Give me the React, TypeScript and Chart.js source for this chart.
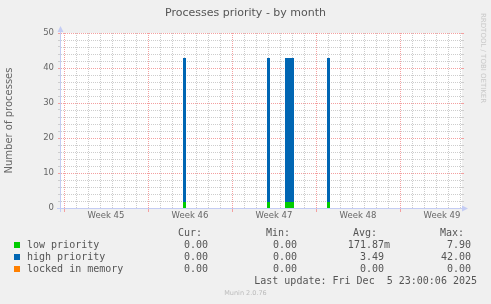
import React, { useEffect, useRef } from "react";
import { Chart, registerables } from "chart.js";

Chart.register(...registerables);

// ---- data ----
const chartTitle = "Processes priority - by month";
const yAxisTitle = "Number of processes";
const weekLabels = ["Week 45", "Week 46", "Week 47", "Week 48", "Week 49"];
// time in hours since Monday 00:00 of week 45
const rangeStartHours = -6;
const rangeEndHours = 796;
const spikeStartHours = [238, 406, 442, 526];
const spikeEndHours = [244, 412, 460, 532];
const lowPriority = [1.7, 1.7, 1.7, 1.7];
const highPriority = [41.15, 41.15, 41.15, 41.15];
const lockedInMemory = [0, 0, 0, 0];
const yMax = 50;
const yTickLabels = ["0", "10", "20", "30", "40", "50"];

const seriesNames = ["low priority", "high priority", "locked in memory"];
const seriesColors = ["#00CC00", "#0066B3", "#FF8000"];
const headerLabels = ["Cur:", "Min:", "Avg:", "Max:"];
const curValues = ["0.00", "0.00", "0.00"];
const minValues = ["0.00", "0.00", "0.00"];
const avgValues = ["171.87m", "3.49 ", "0.00 "];
const maxValues = ["7.90", "42.00", "0.00"];
const lastUpdate = "Last update: Fri Dec  5 23:00:06 2025";
const footerText = "Munin 2.0.76";
const watermark = "RRDTOOL / TOBI OETIKER";

// ---- helpers ----
const HOURS_PER_DAY = 24;
const HOURS_PER_WEEK = 168;
const weekLabelHours = weekLabels.map((_, k) => HOURS_PER_WEEK / 2 + k * HOURS_PER_WEEK);

function spikePoints(values: number[]) {
  const pts: { x: number; y: number }[] = [{ x: rangeStartHours, y: 0 }];
  values.forEach((v, i) => {
    pts.push(
      { x: spikeStartHours[i], y: 0 },
      { x: spikeStartHours[i], y: v },
      { x: spikeEndHours[i], y: v },
      { x: spikeEndHours[i], y: 0 }
    );
  });
  pts.push({ x: rangeEndHours, y: 0 });
  return pts;
}

const MAJOR = "#F4A0A0";
const MINOR = "#CDCDCD";
const AXIS = "#C4CCF4";
const FONT = "#666666";
const LEGEND_FONT = "#555555";

const xGridColor = (v: number) =>
  v % HOURS_PER_WEEK === 0 ? MAJOR : v % HOURS_PER_DAY === 0 ? MINOR : null;
const yGridColor = (v: number) => (v % 10 === 0 ? MAJOR : MINOR);

const rrdPlugin = {
  id: "rrd",
  beforeDraw(chart: any) {
    const { ctx, chartArea: a } = chart;
    ctx.save();
    ctx.fillStyle = "#F0F0F0";
    ctx.fillRect(0, 0, chart.width, chart.height);
    ctx.fillStyle = "#FFFFFF";
    ctx.fillRect(a.left, a.top, a.right - a.left, a.bottom - a.top);
    ctx.restore();
  },
  beforeDatasetsDraw(chart: any) {
    // dotted rrdtool-style grid, positioned by the chart's scales
    const { ctx, chartArea: a } = chart;
    const xs = chart.scales.x;
    const ys = chart.scales.y;
    ctx.save();
    ys.ticks.forEach((t: any) => {
      const row = Math.round(ys.getPixelForValue(t.value));
      if (row >= a.bottom) return;
      ctx.fillStyle = yGridColor(t.value);
      for (let px = a.left; px < a.right; px += 2) ctx.fillRect(px, row, 1, 1);
      for (let px = a.right; px < a.right + 2; px++) ctx.fillRect(px, row, 1, 1);
    });
    xs.ticks.forEach((t: any) => {
      const col = xGridColor(t.value);
      if (!col) return;
      const px = Math.round(xs.getPixelForValue(t.value));
      ctx.fillStyle = col;
      for (let py = a.top; py < a.bottom; py += 2) ctx.fillRect(px, py, 1, 1);
    });
    ctx.restore();
  },
  afterDraw(chart: any) {
    const { ctx, chartArea: a } = chart;
    ctx.save();
    // axes
    const x0 = a.left - 0.5;
    const y0 = a.bottom + 0.5;
    ctx.strokeStyle = AXIS;
    ctx.fillStyle = AXIS;
    ctx.lineWidth = 1;
    ctx.beginPath();
    ctx.moveTo(a.left - 4, y0);
    ctx.lineTo(a.right + 1, y0);
    ctx.moveTo(x0, a.bottom + 4);
    ctx.lineTo(x0, a.top - 4);
    ctx.stroke();
    // arrows
    ctx.beginPath();
    ctx.moveTo(x0 - 3, a.top - 1);
    ctx.lineTo(x0 + 3, a.top - 1);
    ctx.lineTo(x0, a.top - 7);
    ctx.closePath();
    ctx.fill();
    ctx.beginPath();
    ctx.moveTo(a.right, y0 - 3);
    ctx.lineTo(a.right, y0 + 3);
    ctx.lineTo(a.right + 6, y0);
    ctx.closePath();
    ctx.fill();

    // title
    ctx.fillStyle = LEGEND_FONT;
    ctx.font = '11px "DejaVu Sans"';
    ctx.textAlign = "center";
    ctx.textBaseline = "alphabetic";
    ctx.fillText(chartTitle, 245.5, 15.5);

    // watermark
    ctx.save();
    ctx.fillStyle = "#C8C8C8";
    ctx.font = '7px "DejaVu Sans"';
    ctx.translate(481, 13);
    ctx.rotate(Math.PI / 2);
    ctx.textAlign = "left";
    ctx.fillText(watermark, 0, 0);
    ctx.restore();

    // legend
    ctx.font = '10px "DejaVu Sans Mono"';
    ctx.fillStyle = LEGEND_FONT;
    ctx.textAlign = "right";
    const headerRight = [202, 290, 377, 464];
    headerLabels.forEach((h, i) => ctx.fillText(h, headerRight[i], 236));
    const valueRight = [208, 297, 390, 471];
    seriesNames.forEach((name, r) => {
      const base = 248 + r * 12;
      ctx.fillStyle = seriesColors[r];
      ctx.fillRect(14, base - 6, 6, 6);
      ctx.fillStyle = LEGEND_FONT;
      ctx.textAlign = "left";
      ctx.fillText(name, 27, base);
      ctx.textAlign = "right";
      const vals = [curValues[r], minValues[r], avgValues[r], maxValues[r]];
      vals.forEach((v, i) => ctx.fillText(v, valueRight[i], base));
    });
    ctx.fillText(lastUpdate, 477, 284);

    // footer
    ctx.fillStyle = "#BBBBBB";
    ctx.font = '6.5px "DejaVu Sans"';
    ctx.textAlign = "center";
    ctx.fillText(footerText, 245.5, 294.5);
    ctx.restore();
  },
};

export default function App() {
  const ref = useRef<HTMLCanvasElement>(null);
  useEffect(() => {
    const canvas = ref.current!;
    const totals = lowPriority.map((l, i) => l + highPriority[i]);
    const ds = (label: string, data: number[], color: string) => ({
      label,
      data: spikePoints(data),
      backgroundColor: color,
      borderColor: "transparent",
      borderWidth: 0,
      pointRadius: 0,
      pointHoverRadius: 0,
      fill: "origin",
      tension: 0,
    });
    const chart = new Chart(canvas, {
      type: "line",
      data: {
        datasets: [
          ds(seriesNames[0], lowPriority, seriesColors[0]),
          ds(seriesNames[1], totals, seriesColors[1]),
          ds(seriesNames[2], lockedInMemory, seriesColors[2]),
        ] as any,
      },
      options: {
        responsive: false,
        animation: false,
        events: [],
        layout: { padding: { left: 0, top: 33, right: 29, bottom: 0 } },
        plugins: {
          legend: { display: false },
          title: { display: false },
          tooltip: { enabled: false },
        },
        scales: {
          x: {
            type: "linear",
            min: rangeStartHours,
            max: rangeEndHours,
            afterBuildTicks: (scale: any) => {
              const vals: number[] = [];
              for (let h = 0; h <= rangeEndHours; h += HOURS_PER_DAY) vals.push(h);
              weekLabelHours.forEach((h) => vals.push(h));
              vals.sort((p, q) => p - q);
              scale.ticks = vals.map((value) => ({ value }));
            },
            afterFit: (scale: any) => {
              scale.height = 96;
            },
            grid: {
              drawOnChartArea: false,
              color: "rgba(0,0,0,0)",
              tickColor: (c: any) => {
                const v = c.tick ? c.tick.value : NaN;
                return v % HOURS_PER_WEEK === 0 ? MAJOR : "rgba(0,0,0,0)";
              },
              tickLength: 4,
              lineWidth: 1,
            },
            border: { display: false },
            ticks: {
              autoSkip: false,
              maxRotation: 0,
              minRotation: 0,
              padding: 0,
              color: FONT,
              font: { family: "DejaVu Sans", size: 8.5, lineHeight: 1 },
              callback: (v: any) => {
                const k = weekLabelHours.indexOf(Number(v));
                return k >= 0 ? weekLabels[k] : "";
              },
            },
          },
          y: {
            type: "linear",
            min: 0,
            max: yMax,
            afterBuildTicks: (scale: any) => {
              const vals: number[] = [];
              for (let v = 0; v <= yMax; v += 2) vals.push(v);
              scale.ticks = vals.map((value) => ({ value }));
            },
            afterFit: (scale: any) => {
              scale.width = 61;
            },
            grid: {
              drawOnChartArea: false,
              color: "rgba(0,0,0,0)",
              tickColor: (c: any) => (c.tick ? yGridColor(c.tick.value) : MINOR),
              tickLength: 3,
              lineWidth: 1,
            },
            border: { display: false },
            ticks: {
              autoSkip: false,
              padding: 4,
              color: FONT,
              font: { family: "DejaVu Sans", size: 8.5 },
              callback: (v: any) => {
                const n = Number(v);
                return n % 10 === 0 ? yTickLabels[n / 10] : "";
              },
            },
            title: {
              display: true,
              text: yAxisTitle,
              color: FONT,
              font: { family: "DejaVu Sans", size: 10 },
              padding: { top: 3.5, bottom: 0 },
            },
          },
        },
      } as any,
      plugins: [rrdPlugin],
    });
    return () => chart.destroy();
  }, []);
  return (
    <div style={{ position: "absolute", left: 0, top: 0, width: 491, height: 304 }}>
      <canvas ref={ref} width={491} height={304} style={{ width: 491, height: 304, display: "block" }} />
    </div>
  );
}
